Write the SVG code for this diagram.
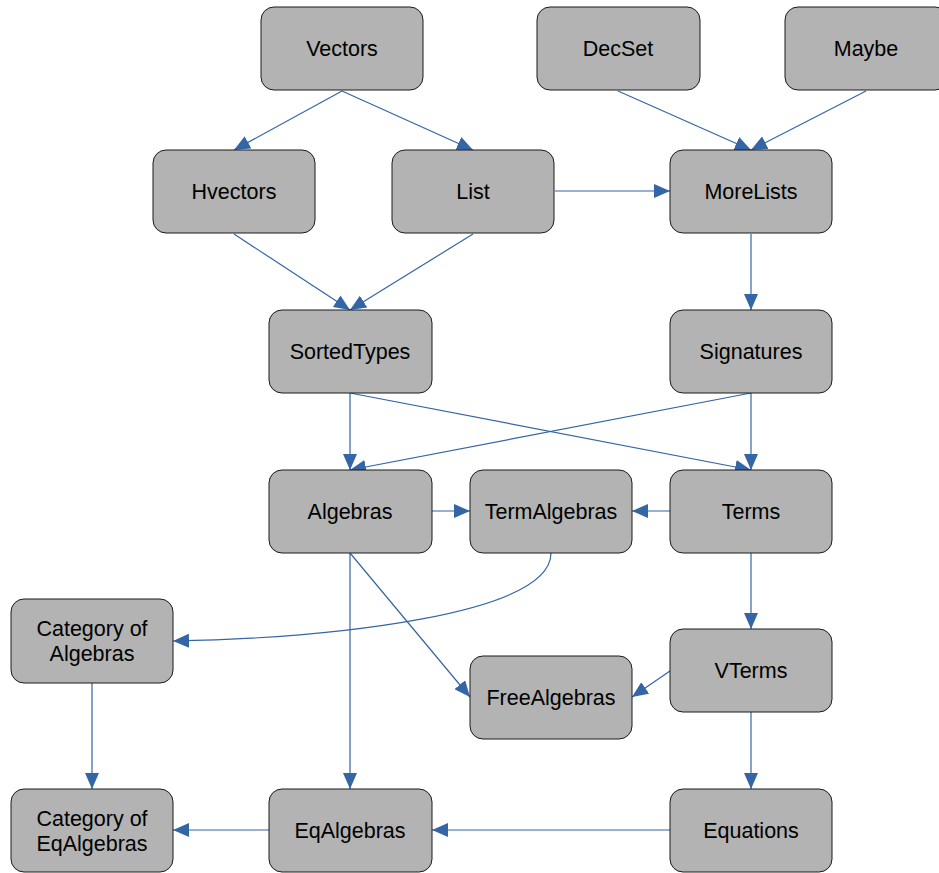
<svg xmlns="http://www.w3.org/2000/svg" width="939" height="873" viewBox="0 0 939 873">
<defs>
<style>
.n rect{fill:#b3b3b3;stroke:#1a1a1a;stroke-width:1}
.n text{font-family:"Liberation Sans",Arial,sans-serif;font-size:21.5px;fill:#000;text-anchor:middle}
.e path{fill:none;stroke:#3465a4;stroke-width:1.2;marker-end:url(#a)}
</style>
<marker id="a" markerUnits="userSpaceOnUse" markerWidth="16" markerHeight="14" refX="16" refY="7" orient="auto" viewBox="0 0 16 14">
<path d="M0,0 L16,7 L0,14 z" fill="#3465a4"/>
</marker>
</defs>
<rect width="939" height="873" fill="#fff"/>
<g id="edges" class="e">
<path d="M342,91 L234,150"/>
<path d="M342,91 L473,150"/>
<path d="M618,91 L751,150"/>
<path d="M866,91 L751,150"/>
<path d="M555,191 L670,191"/>
<path d="M234,234 L350,310"/>
<path d="M473,234 L350,310"/>
<path d="M751,234 L751,310"/>
<path d="M350,393 L350,470"/>
<path d="M350,393 L751,470"/>
<path d="M751,393 L350,470"/>
<path d="M751,393 L751,470"/>
<path d="M432,511 L470,511"/>
<path d="M670,511 L632,511"/>
<path d="M551,553 C551,615 330,638 173,641"/>
<path d="M350,553 L470,697"/>
<path d="M350,553 L350,789"/>
<path d="M751,553 L751,629"/>
<path d="M670,671 L632,697"/>
<path d="M751,712 L751,789"/>
<path d="M92,683 L92,789"/>
<path d="M269,830 L173,830"/>
<path d="M670,830 L432,830"/>
</g>
<g id="vectors" class="n"><rect x="261" y="7" width="162" height="83" rx="13"/><text x="342" y="56">Vectors</text></g>
<g id="decset" class="n"><rect x="537" y="7" width="163" height="83" rx="13"/><text x="618" y="56">DecSet</text></g>
<g id="maybe" class="n"><rect x="785" y="7" width="163" height="83" rx="13"/><text x="866" y="56">Maybe</text></g>
<g id="hvectors" class="n"><rect x="153" y="150" width="162" height="83" rx="13"/><text x="234" y="199">Hvectors</text></g>
<g id="list" class="n"><rect x="392" y="150" width="162" height="83" rx="13"/><text x="473" y="199">List</text></g>
<g id="morelists" class="n"><rect x="670" y="150" width="162" height="83" rx="13"/><text x="751" y="199">MoreLists</text></g>
<g id="sortedtypes" class="n"><rect x="269" y="310" width="163" height="83" rx="13"/><text x="350" y="359">SortedTypes</text></g>
<g id="signatures" class="n"><rect x="670" y="310" width="162" height="83" rx="13"/><text x="751" y="359">Signatures</text></g>
<g id="algebras" class="n"><rect x="269" y="470" width="163" height="83" rx="13"/><text x="350" y="519">Algebras</text></g>
<g id="termalgebras" class="n"><rect x="470" y="470" width="162" height="83" rx="13"/><text x="551" y="519">TermAlgebras</text></g>
<g id="terms" class="n"><rect x="670" y="470" width="162" height="83" rx="13"/><text x="751" y="519">Terms</text></g>
<g id="catalgebras" class="n"><rect x="11" y="599" width="162" height="84" rx="13"/><text x="92" y="636">Category of</text><text x="92" y="661">Algebras</text></g>
<g id="freealgebras" class="n"><rect x="470" y="656" width="162" height="83" rx="13"/><text x="551" y="705">FreeAlgebras</text></g>
<g id="vterms" class="n"><rect x="670" y="629" width="162" height="83" rx="13"/><text x="751" y="678">VTerms</text></g>
<g id="cateqalgebras" class="n"><rect x="11" y="789" width="162" height="83" rx="13"/><text x="92" y="826">Category of</text><text x="92" y="851">EqAlgebras</text></g>
<g id="eqalgebras" class="n"><rect x="269" y="789" width="163" height="83" rx="13"/><text x="350" y="838">EqAlgebras</text></g>
<g id="equations" class="n"><rect x="670" y="789" width="162" height="83" rx="13"/><text x="751" y="838">Equations</text></g>
</svg>
